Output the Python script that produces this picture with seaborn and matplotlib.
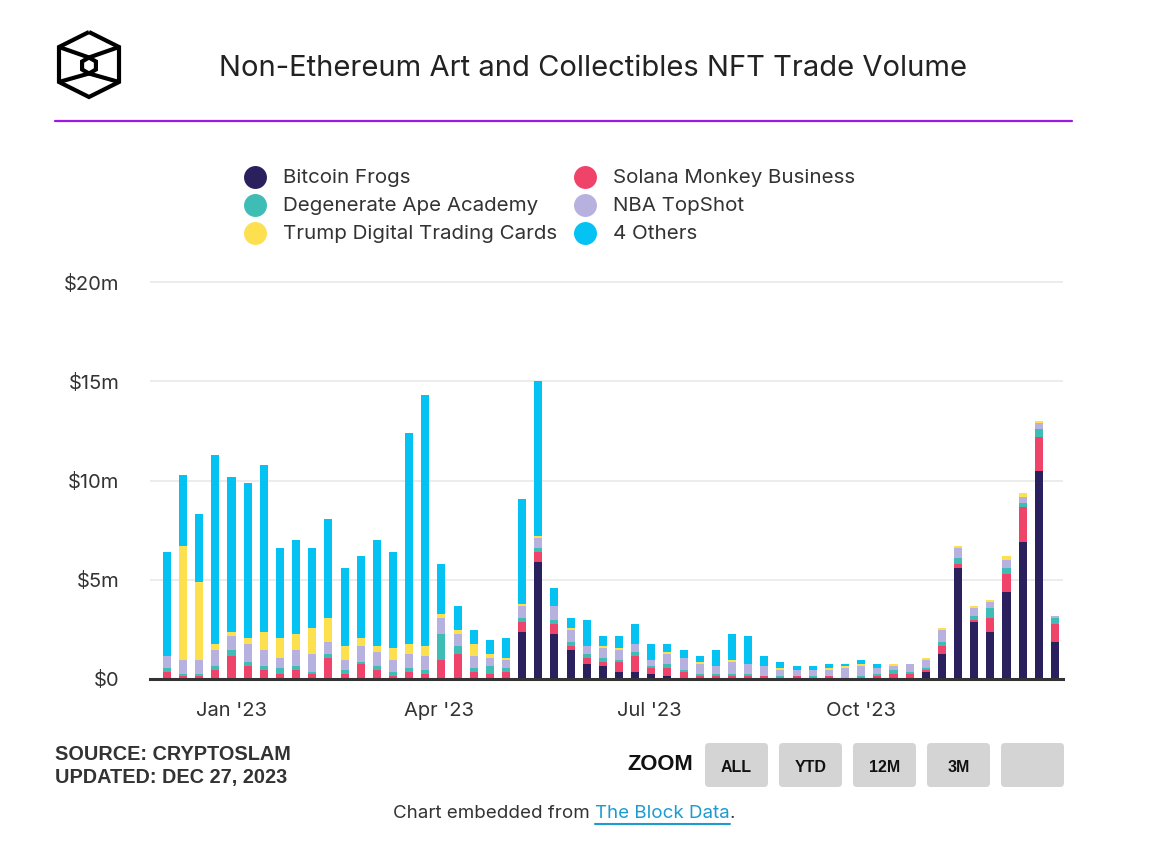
import numpy as np
import pandas as pd
import matplotlib
matplotlib.use("Agg")
import matplotlib.pyplot as plt
import seaborn as sns
from matplotlib.lines import Line2D
from matplotlib.patches import FancyBboxPatch, Polygon
from matplotlib.transforms import IdentityTransform

# ---------------- data ($ millions, weekly, weeks starting 2022-12-04) ----------------
series_names = ["Bitcoin Frogs", "Solana Monkey Business", "Degenerate Ape Academy",
                "NBA TopShot", "Trump Digital Trading Cards", "4 Others"]
series_colors = ["#2a205e", "#f0436a", "#3dbdb6", "#b7b1e0", "#fde050", "#04c3f2"]

bitcoin_frogs = [0, 0, 0, 0, 0, 0, 0, 0, 0, 0, 0, 0, 0, 0, 0, 0, 0, 0, 0, 0, 0,
                 0.07, 2.37, 5.88, 2.27, 1.47, 0.77, 0.67, 0.37, 0.37, 0.27, 0.17, 0.07, 0.07,
                 0.07, 0.07, 0.07, 0, 0, 0.07, 0, 0, 0, 0, 0, 0, 0.07, 0.37, 1.27, 5.58,
                 2.87, 2.37, 4.38, 6.88, 10.49, 1.87]
solana_monkey = [0.37, 0.17, 0.17, 0.47, 1.17, 0.67, 0.47, 0.27, 0.47, 0.27, 1.07, 0.27,
                 0.77, 0.47, 0.17, 0.37, 0.27, 0.97, 1.27, 0.37, 0.27, 0.30, 0.50, 0.50,
                 0.50, 0.20, 0.30, 0.20, 0.50, 0.80, 0.30, 0.40, 0.30, 0.10, 0.10, 0.10,
                 0.10, 0.17, 0.07, 0.10, 0.07, 0.17, 0.07, 0.07, 0.17, 0.27, 0.20, 0.10,
                 0.40, 0.20, 0.10, 0.70, 0.90, 1.80, 1.70, 0.90]
degenerate_ape = [0.20, 0.10, 0.10, 0.20, 0.30, 0.20, 0.20, 0.30, 0.20, 0.10, 0.20, 0.20,
                  0.10, 0.20, 0.20, 0.20, 0.20, 1.30, 0.40, 0.20, 0.40, 0.20, 0.20, 0.20,
                  0.20, 0.20, 0.20, 0.20, 0.10, 0.20, 0.10, 0.20, 0.10, 0.10, 0.10, 0.10,
                  0.10, 0, 0.10, 0, 0.10, 0, 0, 0.10, 0.10, 0.20, 0.10, 0.10, 0.20, 0.30,
                  0.20, 0.50, 0.30, 0.20, 0.40, 0.30]
nba_topshot = [0.60, 0.70, 0.70, 0.80, 0.70, 0.90, 0.80, 0.50, 0.80, 0.90, 0.60, 0.50,
               0.80, 0.70, 0.60, 0.70, 0.70, 0.80, 0.60, 0.60, 0.40, 0.40, 0.60, 0.50,
               0.70, 0.60, 0.40, 0.50, 0.50, 0.40, 0.30, 0.50, 0.60, 0.50, 0.40, 0.60,
               0.50, 0.50, 0.30, 0.30, 0.30, 0.30, 0.50, 0.50, 0.30, 0.20, 0.40, 0.40,
               0.60, 0.50, 0.40, 0.30, 0.40, 0.30, 0.30, 0.10]
trump_cards = [0, 5.71, 3.91, 0.30, 0.20, 0.30, 0.90, 1.00, 0.80, 1.30, 1.20, 0.70,
               0.40, 0.30, 0.60, 0.50, 0.50, 0.20, 0.20, 0.60, 0.20, 0.10, 0.10, 0.10,
               0, 0.10, 0, 0.10, 0.10, 0, 0, 0.10, 0, 0.10, 0, 0.10, 0, 0, 0.10, 0, 0,
               0.10, 0.10, 0.10, 0, 0.10, 0, 0.10, 0.10, 0.10, 0.10, 0.10, 0.20, 0.20,
               0.10, 0]
others = [5.21, 3.61, 3.41, 9.52, 7.82, 7.82, 8.42, 4.51, 4.71, 4.01, 5.01, 3.91, 4.11,
          5.31, 4.81, 10.63, 12.63, 2.51, 1.20, 0.70, 0.70, 1.00, 5.31, 7.82, 0.90, 0.50,
          1.30, 0.50, 0.60, 1.00, 0.80, 0.40, 0.40, 0.30, 0.80, 1.30, 1.40, 0.50, 0.30,
          0.20, 0.20, 0.20, 0.10, 0.20, 0.20, 0, 0, 0, 0, 0, 0, 0, 0, 0, 0, 0]

first_week = "2022-12-04"
tick_dates = ["2023-01-01", "2023-04-01", "2023-07-01", "2023-10-01"]
tick_labels = ["Jan '23", "Apr '23", "Jul '23", "Oct '23"]
y_ticks = [0, 5, 10, 15, 20]
y_tick_labels = ["$0", "$5m", "$10m", "$15m", "$20m"]

title = "Non-Ethereum Art and Collectibles NFT Trade Volume"
source_lines = ["SOURCE: CRYPTOSLAM", "UPDATED: DEC 27, 2023"]
zoom_buttons = ["ALL", "YTD", "12M", "3M", ""]

# ---------------- figure ----------------
W, H = 1166, 850
sns.set_theme(style="white")
plt.rcParams["font.family"] = ["Inter", "DejaVu Sans"]

fig = plt.figure(figsize=(W / 100, H / 100), dpi=100)
fig.patch.set_facecolor("white")

y_top = 20.2
ax_h_px = (679 - 282) * y_top / 20
ax = fig.add_axes([150 / W, 1 - 679 / H, 913 / W, ax_h_px / H])
ax.set_facecolor("white")

weeks = pd.date_range(first_week, periods=len(bitcoin_frogs), freq="7D")
idx = np.arange(len(weeks))
stack = np.vstack([bitcoin_frogs, solana_monkey, degenerate_ape, nba_topshot,
                   trump_cards, others])
cum = np.cumsum(stack, axis=0)

for i in range(len(series_names) - 1, -1, -1):
    sns.barplot(x=idx, y=cum[i], color=series_colors[i], saturation=1, width=0.5,
                linewidth=0, errorbar=None, ax=ax, zorder=3)

ax.set_ylim(0, y_top)
ax.set_xlim(-1.05, len(weeks) - 0.5)
ax.set_axisbelow(True)
ax.yaxis.grid(True, color="#ebebeb", lw=1.3)
ax.xaxis.grid(False)
for s in ["left", "right", "top"]:
    ax.spines[s].set_visible(False)
ax.spines["bottom"].set_color("#333333")
ax.spines["bottom"].set_linewidth(2.2)
ax.spines["bottom"].set_zorder(5)

t0 = pd.Timestamp(first_week)
xt = [(pd.Timestamp(d) - t0).days / 7 for d in tick_dates]
ax.set_xticks(xt)
ax.set_xticklabels(tick_labels)
ax.set_yticks(y_ticks)
ax.set_yticklabels(y_tick_labels)
ax.tick_params(axis="x", length=0, pad=16.5, labelsize=14.5, labelcolor="#333333")
ax.tick_params(axis="y", length=0, pad=22, labelsize=14.5, labelcolor="#333333")
ax.set_xlabel("")
ax.set_ylabel("")

# ---------------- title + logo + rule ----------------
fig.text(593 / W, 1 - 68 / H, title, ha="center", va="center", fontsize=21,
         color="#222222")
fig.add_artist(Line2D([55 / W, 1072 / W], [1 - 121 / H] * 2, color="#9b17ea", lw=1.6))

def dp(x, y):
    return (x, H - y)

logo_kw = dict(transform=IdentityTransform(), color="black", lw=3, solid_joinstyle="miter",
               solid_capstyle="butt")
outer = [(89, 32), (119, 47), (119, 82), (89, 97), (59, 82), (59, 47), (89, 32)]
fig.add_artist(Line2D([dp(*p)[0] for p in outer], [dp(*p)[1] for p in outer], **logo_kw))
cx, cy, r = 89, 65.5, 8.0
inner = [(cx + r * np.sin(a), cy - r * np.cos(a)) for a in np.linspace(0, 2 * np.pi, 7)]
fig.add_artist(Line2D([dp(*p)[0] for p in inner], [dp(*p)[1] for p in inner], **logo_kw))
for (x1, y1), (x2, y2) in [((59, 47), (89, 57.5)), ((119, 47), (89, 57.5)),
                           ((59, 82), (89, 73.5)), ((119, 82), (89, 73.5))]:
    a, b = dp(x1, y1), dp(x2, y2)
    fig.add_artist(Line2D([a[0], b[0]], [a[1], b[1]], **logo_kw))

# ---------------- legend ----------------
leg_pos = [(255, 177), (255, 205), (255, 233), (585, 177), (585, 205), (585, 233)]
leg_order = [0, 2, 4, 1, 3, 5]
for (lx, ly), si in zip(leg_pos, leg_order):
    fig.add_artist(Line2D([lx / W], [1 - ly / H], marker="o", ms=15.5, lw=0,
                          color=series_colors[si], transform=fig.transFigure))
    fig.text((lx + 28) / W, 1 - (ly + 1) / H, series_names[si], ha="left", va="center",
             fontsize=14.8, color="#333333")

# ---------------- footer ----------------
for k, line in enumerate(source_lines):
    fig.text(55 / W, 1 - (755 + 22 * k) / H, line, ha="left", va="center", fontsize=14.3,
             fontweight="bold", family=["Liberation Sans", "DejaVu Sans"], color="#333333")

fig.text(693 / W, 1 - 765 / H, "ZOOM", ha="right", va="center", fontsize=15.8,
         fontweight="bold", family=["Liberation Sans", "DejaVu Sans"], color="#111111")
bx = [705, 779, 853, 927, 1001]
for x0, lab in zip(bx, zoom_buttons):
    fig.add_artist(FancyBboxPatch((x0, H - 787), 63, 44,
                                  boxstyle="round,pad=0,rounding_size=4",
                                  transform=IdentityTransform(), fc="#d4d4d4", ec="none"))
    if lab:
        fig.text((x0 + 31.5) / W, 1 - 767 / H, lab, ha="center", va="center",
                 fontsize=11.5, fontweight="bold",
                 family=["Liberation Sans", "DejaVu Sans"], color="#111111")

fig.canvas.draw()
renderer = fig.canvas.get_renderer()
fy = 1 - 813 / H
parts = [("Chart embedded from ", "#333333"), ("The Block Data", "#1d9bd1"), (".", "#333333")]
texts = [fig.text(0, fy, s, ha="left", va="center", fontsize=13.5, color=c) for s, c in parts]
widths = [t.get_window_extent(renderer).width for t in texts]
total = sum(widths)
x = 564 - total / 2
for t, w in zip(texts, widths):
    t.set_x(x / W)
    if t.get_text() == "The Block Data":
        fig.add_artist(Line2D([x / W, (x + w) / W], [1 - 824 / H] * 2, color="#1d9bd1", lw=1.5))
    x += w

fig.savefig("out.png", dpi=100, facecolor="white")
